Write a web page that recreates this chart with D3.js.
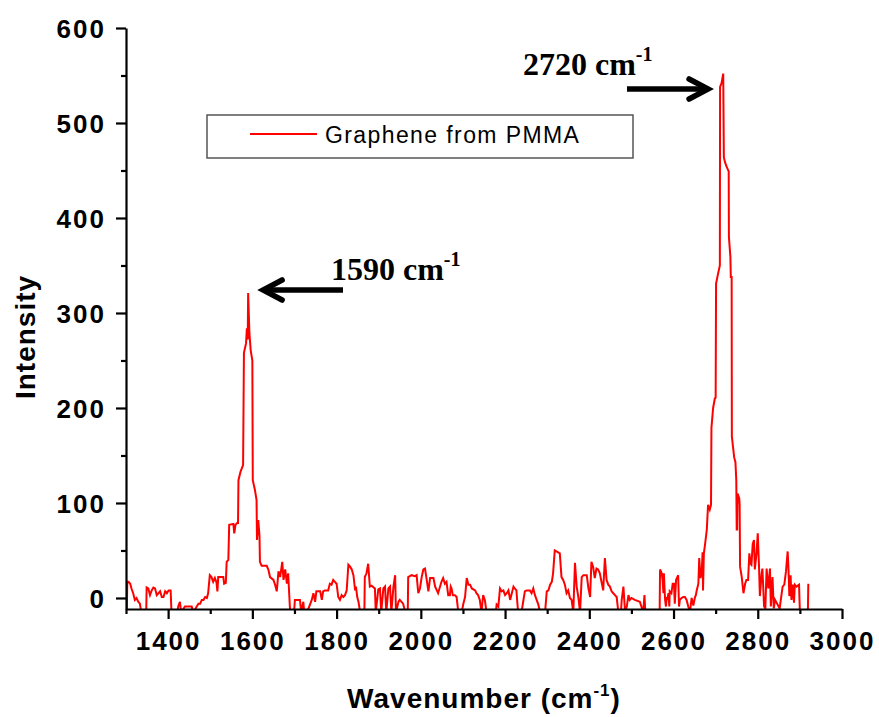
<!DOCTYPE html>
<html>
<head>
<meta charset="utf-8">
<script src="https://cdn.jsdelivr.net/npm/d3@7"></script>
<style>
  html, body { margin: 0; padding: 0; background: #fff; }
  svg { display: block; }
  .tick-label { font-family: Arial, "Liberation Sans", sans-serif; font-weight: bold; font-size: 26px; letter-spacing: 2px; fill: #000; }
  .axis-title { font-family: Arial, "Liberation Sans", sans-serif; font-weight: bold; font-size: 28px; letter-spacing: 1px; fill: #000; }
  .peak-label { font-family: "Times New Roman", "Liberation Serif", serif; font-weight: bold; font-size: 32px; fill: #000; }
  .legend-text { font-family: Arial, "Liberation Sans", sans-serif; font-size: 23px; letter-spacing: 1.4px; fill: #000; }
</style>
</head>
<body>
<svg id="chart" width="879" height="717"></svg>
<script>
// Raman spectrum of graphene transferred with PMMA
const seriesName = "Graphene from PMMA";

const wavenumber = [
  1300,1302,1303,1306,1310,1313,1317,1321,1325,1329,1333,1336,1348,1349,1353,1357,1361,1365,1369,1373,
  1377,1381,1385,1389,1393,1397,1401,1406,1408,1422,1424,1428,1431,1440,1456,1460,1468,1472,1476,1480,
  1484,1488,1492,1495,1499,1503,1507,1511,1515,1517,1519,1531,1533,1537,1539,1543,1545,1555,1557,1560,
  1564,1566,1567,1572,1578,1580,1585,1587,1589,1590,1593,1596,1600,1601,1606,1610,1611,1614,1617,1618,
  1622,1634,1638,1642,1650,1654,1658,1662,1666,1671,1674,1678,1682,1685,1689,1690,1699,1701,1713,1716,
  1721,1723,1730,1741,1745,1749,1752,1757,1761,1765,1768,1772,1780,1784,1788,1792,1796,1800,1804,1808,
  1812,1816,1820,1824,1828,1832,1836,1840,1844,1846,1849,1852,1856,1866,1867,1871,1875,1879,1883,1891,
  1893,1899,1903,1906,1911,1915,1918,1923,1927,1930,1935,1939,1941,1947,1950,1958,1963,1969,1970,1978,
  1986,1990,1994,1998,2002,2006,2010,2014,2018,2022,2030,2034,2038,2041,2049,2053,2057,2061,2065,2069,
  2071,2073,2076,2081,2085,2089,2097,2101,2105,2109,2113,2117,2121,2129,2132,2136,2140,2144,2148,2152,
  2156,2178,2180,2184,2188,2192,2196,2200,2204,2208,2212,2216,2220,2223,2227,2229,2231,2239,2243,2247,
  2251,2259,2263,2267,2271,2275,2279,2283,2295,2299,2303,2307,2311,2314,2318,2322,2330,2334,2338,2342,
  2346,2350,2354,2358,2362,2366,2370,2374,2378,2382,2386,2394,2398,2402,2405,2409,2413,2417,2421,2425,
  2429,2433,2437,2441,2445,2449,2453,2457,2461,2465,2469,2475,2477,2481,2485,2489,2493,2496,2500,2508,
  2520,2528,2531,2533,2567,2568,2572,2574,2576,2577,2580,2582,2584,2585,2588,2590,2591,2595,2598,2601,
  2603,2606,2609,2611,2613,2615,2619,2623,2627,2631,2635,2639,2643,2647,2651,2653,2655,2659,2661,2664,
  2667,2669,2670,2672,2675,2679,2682,2686,2689,2690,2694,2698,2700,2701,2706,2710,2710.5,2714,2718,2719.5,
  2722,2726,2731,2731.5,2735,2736,2738,2738.5,2741,2744,2747,2749,2750,2751,2752,2756,2757,2758,2762,2766,
  2770,2773,2777,2780,2783,2785,2788,2791,2793,2797,2800,2803,2805,2809,2811,2815,2818,2821,2825,2829,
  2831,2835,2838,2841,2852,2859,2863,2867,2871,2873,2875,2878,2880,2883,2886,2888,2892,2898,2900,2919,
  2920
];

const intensity = [
  -15,-15,17,17,15,10,5,-2,0,-4,-6,-15,-15,11,10,3,8,11,10,3,
  5,7,1,1,7,5,8,8,-15,-15,-9,-4,-15,-9,-9,-15,-9,-6,-6,-2,
  -2,1,0,5,24,22,17,21,16,7,22,22,15,16,38,40,77,78,68,77,
  79,79,124,133,140,258,268,284,272,321,279,261,250,124,114,103,61,82,65,38,
  34,34,30,22,19,14,7,28,22,38,19,30,15,26,-9,-15,-15,-2,-2,-15,
  -4,-15,-15,-2,5,-4,7,7,7,-2,7,8,8,15,14,19,17,15,1,-2,
  3,1,3,8,35,33,30,24,8,12,1,-4,-15,-15,22,26,36,12,13,10,
  -15,9,10,-15,10,12,-15,10,12,-15,12,24,-15,-4,-2,-6,-15,-15,22,24,
  23,24,5,10,22,30,31,19,7,21,21,12,8,5,17,21,15,17,3,3,
  12,10,3,3,1,-15,-15,-6,1,21,14,14,10,8,5,3,-2,-15,3,-2,
  -15,-15,-7,-9,10,7,8,3,5,8,-2,5,12,10,8,-4,-15,-15,-4,7,
  8,8,5,10,3,-2,-7,-15,-15,7,8,14,17,26,50,49,47,22,19,14,
  5,8,0,-2,-15,37,12,1,-15,22,24,24,10,1,38,33,21,31,30,26,
  17,8,42,19,14,12,7,5,3,1,-15,-15,-2,12,-15,-9,3,-2,0,-2,
  -4,-15,3,-15,-15,30,26,19,5,26,-2,-9,1,-2,5,-9,7,5,15,15,
  -6,19,22,24,-9,-2,0,1,1,-2,-9,-15,0,-8,1,3,8,15,42,21,
  28,48,8,47,57,72,98,93,98,179,200,210,211,331,342,350,538,542,552,464,
  459,454,449,380,359,338,338,170,160,148,143,124,72,72,110,105,98,33,22,5,
  15,19,19,47,36,35,57,61,30,47,68,33,2,25,31,-9,-11,31,10,31,
  -9,22,-11,-2,-11,12,14,28,49,30,2,24,-2,14,-5,14,12,14,-15,-15,
  15
];

const xMajorTicks = [1400, 1600, 1800, 2000, 2200, 2400, 2600, 2800, 3000];
const xMinorTicks = [1300, 1500, 1700, 1900, 2100, 2300, 2500, 2700, 2900];
const yMajorTicks = [0, 100, 200, 300, 400, 500, 600];
const yMinorTicks = [50, 150, 250, 350, 450, 550];

// Peak annotations: label position in data units, arrow direction
const peakNames = ["1590", "2720"];

const svg = d3.select("#chart");

const x = d3.scaleLinear().domain([1300, 3000]).range([126, 842]);
const y = d3.scaleLinear().domain([-11.6, 600]).range([609, 28]);

svg.append("defs").append("clipPath").attr("id", "plot-clip")
  .append("rect")
  .attr("x", x.range()[0]).attr("y", y.range()[1])
  .attr("width", x.range()[1] - x.range()[0])
  .attr("height", y.range()[0] - y.range()[1]);

const points = wavenumber.map((w, i) => [w, intensity[i]]);

svg.append("path")
  .datum(points)
  .attr("clip-path", "url(#plot-clip)")
  .attr("fill", "none")
  .attr("stroke", "#ff0000")
  .attr("stroke-width", 2)
  .attr("stroke-linejoin", "miter")
  .attr("d", d3.line().x(d => x(d[0])).y(d => y(d[1])));

// X axis: major ticks with labels, minor ticks without
const xAxisG = svg.append("g").attr("transform", `translate(0,${y.range()[0]})`);
xAxisG.call(d3.axisBottom(x).tickValues(xMajorTicks).tickSize(10).tickSizeOuter(0).tickFormat(d3.format("d")));
xAxisG.append("g").call(d3.axisBottom(x).tickValues(xMinorTicks).tickSize(5).tickSizeOuter(0).tickFormat(""))
  .select(".domain").remove();

// Y axis
const yAxisG = svg.append("g").attr("transform", `translate(${x.range()[0]},0)`);
yAxisG.call(d3.axisLeft(y).tickValues(yMajorTicks).tickSize(10).tickSizeOuter(0).tickFormat(d3.format("d")));
yAxisG.append("g").call(d3.axisLeft(y).tickValues(yMinorTicks).tickSize(5).tickSizeOuter(0).tickFormat(""))
  .select(".domain").remove();

svg.selectAll(".domain").attr("stroke", "#000").attr("stroke-width", 2.2);
svg.selectAll(".tick line").attr("stroke", "#000").attr("stroke-width", 2.2);
svg.selectAll(".tick text").attr("class", "tick-label").attr("font-size", null).attr("font-family", null);

xAxisG.selectAll(".tick text").attr("y", 41).attr("dy", 0);
yAxisG.selectAll(".tick text").attr("x", -20).attr("dy", "0.36em");

// Axis titles
const xt = svg.append("text").attr("class", "axis-title")
  .attr("x", 484).attr("y", 708).attr("text-anchor", "middle");
xt.append("tspan").text("Wavenumber (cm");
xt.append("tspan").attr("dy", -12).attr("font-size", 17).text("-1");
xt.append("tspan").attr("dy", 12).text(")");

svg.append("text").attr("class", "axis-title")
  .attr("transform", "translate(35,337) rotate(-90)")
  .attr("text-anchor", "middle")
  .text("Intensity");

// Legend
const legend = svg.append("g");
legend.append("rect")
  .attr("x", 207).attr("y", 115).attr("width", 426).attr("height", 43)
  .attr("fill", "#fff").attr("stroke", "#555").attr("stroke-width", 1.5);
legend.append("line")
  .attr("x1", 250).attr("x2", 317).attr("y1", 134).attr("y2", 134)
  .attr("stroke", "#ff0000").attr("stroke-width", 2);
legend.append("text").attr("class", "legend-text")
  .attr("x", 325).attr("y", 143).text(seriesName);

// Peak labels with arrows
function peakLabel(name, lx, ly) {
  const t = svg.append("text").attr("class", "peak-label").attr("x", lx).attr("y", ly);
  t.append("tspan").text(name + " cm");
  t.append("tspan").attr("dy", -14).attr("font-size", 20).text("-1");
}
peakLabel(peakNames[0], 331, 280);
peakLabel(peakNames[1], 523, 75);

function arrow(x0, x1, yy) {
  const dir = Math.sign(x1 - x0);
  const g = svg.append("g").attr("stroke", "#000").attr("fill", "none")
    .attr("stroke-width", 5.5).attr("stroke-linecap", "round").attr("stroke-linejoin", "miter");
  g.append("line").attr("x1", x0).attr("x2", x1 - dir * 3).attr("y1", yy).attr("y2", yy)
    .attr("stroke-linecap", "butt");
  g.append("path").attr("d", `M${x1 - dir * 19},${yy - 10} L${x1},${yy} L${x1 - dir * 19},${yy + 10}`);
}
// arrow tips placed at each peak in data coordinates
arrow(343, x(1590) + 15, 290);
arrow(627, x(2720) - 16, 89);
</script>
</body>
</html>
